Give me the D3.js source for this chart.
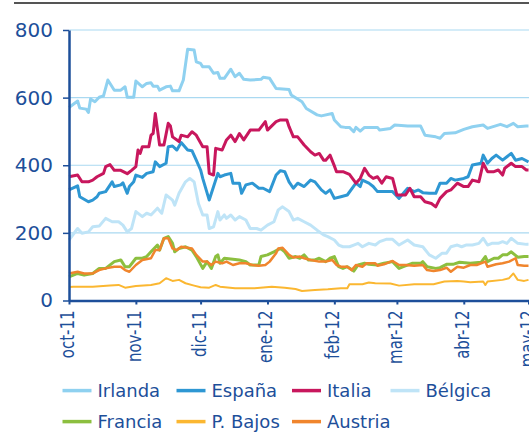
<!DOCTYPE html>
<html>
<head>
<meta charset="utf-8">
<script src="https://cdn.jsdelivr.net/npm/d3@7"></script>
<style>
  body { margin: 0; background: #fff; }
  svg { display: block; font-family: "DejaVu Sans", sans-serif; }
</style>
</head>
<body>
<div id="chart"></div>
<script>
// month ticks and their labels
const monthTicks = ["2011-10-01","2011-11-01","2011-12-01","2012-01-01","2012-02-01","2012-03-01","2012-04-01","2012-05-01"];
const monthLabels = ["oct-11","nov-11","dic-11","ene-12","feb-12","mar-12","abr-12","may-12"];
const yTicks = [0, 200, 400, 600, 800];

const seriesNames = ["Irlanda","España","Italia","Bélgica","Francia","P. Bajos","Austria"];

// values: [date, value]
const irlanda = [["2011-10-01",571],["2011-10-05",590],["2011-10-06",569],["2011-10-09",566],["2011-10-10",556],["2011-10-11",596],["2011-10-13",588],["2011-10-15",601],["2011-10-17",605],["2011-10-19",652],["2011-10-22",622],["2011-10-25",622],["2011-10-27",632],["2011-10-28",601],["2011-10-31",601],["2011-11-01",649],["2011-11-04",632],["2011-11-06",642],["2011-11-08",644],["2011-11-09",634],["2011-11-11",634],["2011-11-12",622],["2011-11-15",632],["2011-11-17",634],["2011-11-18",620],["2011-11-21",620],["2011-11-23",652],["2011-11-25",743],["2011-11-28",741],["2011-11-29",706],["2011-12-01",701],["2011-12-02",691],["2011-12-05",691],["2011-12-07",672],["2011-12-09",674],["2011-12-10",657],["2011-12-12",657],["2011-12-15",684],["2011-12-17",662],["2011-12-19",672],["2011-12-21",654],["2011-12-24",652],["2011-12-29",654],["2011-12-30",660],["2012-01-02",657],["2012-01-05",627],["2012-01-11",624],["2012-01-12",608],["2012-01-17",588],["2012-01-19",568],["2012-01-24",549],["2012-01-26",546],["2012-01-31",553],["2012-02-01",534],["2012-02-04",514],["2012-02-06",512],["2012-02-08",512],["2012-02-10",499],["2012-02-11",512],["2012-02-13",501],["2012-02-15",512],["2012-02-21",512],["2012-02-22",504],["2012-02-27",509],["2012-02-29",519],["2012-03-06",516],["2012-03-12",516],["2012-03-14",489],["2012-03-19",484],["2012-03-21",480],["2012-03-23",494],["2012-03-28",496],["2012-04-01",506],["2012-04-05",514],["2012-04-10",519],["2012-04-12",509],["2012-04-18",521],["2012-04-21",514],["2012-04-24",524],["2012-04-26",514],["2012-04-30",516],["2012-05-01",516]];

const espana = [["2011-10-01",327],["2011-10-05",339],["2011-10-06",307],["2011-10-10",292],["2011-10-12",297],["2011-10-14",307],["2011-10-15",317],["2011-10-18",322],["2011-10-21",351],["2011-10-22",337],["2011-10-25",342],["2011-10-26",348],["2011-10-28",317],["2011-10-29",337],["2011-10-31",351],["2011-11-01",371],["2011-11-04",364],["2011-11-06",376],["2011-11-09",381],["2011-11-10",410],["2011-11-12",396],["2011-11-15",406],["2011-11-16",455],["2011-11-18",457],["2011-11-20",445],["2011-11-22",467],["2011-11-25",445],["2011-11-27",443],["2011-11-29",415],["2011-12-01",386],["2011-12-02",361],["2011-12-05",297],["2011-12-09",376],["2011-12-10",366],["2011-12-12",371],["2011-12-15",376],["2011-12-16",347],["2011-12-19",347],["2011-12-20",317],["2011-12-22",342],["2011-12-25",347],["2011-12-28",332],["2011-12-30",332],["2012-01-02",322],["2012-01-05",371],["2012-01-07",384],["2012-01-09",381],["2012-01-11",351],["2012-01-13",332],["2012-01-15",347],["2012-01-18",337],["2012-01-21",356],["2012-01-23",351],["2012-01-26",327],["2012-01-28",317],["2012-01-30",327],["2012-02-01",302],["2012-02-04",307],["2012-02-07",312],["2012-02-11",347],["2012-02-13",337],["2012-02-14",356],["2012-02-17",347],["2012-02-19",337],["2012-02-21",322],["2012-02-24",322],["2012-02-28",322],["2012-03-02",302],["2012-03-04",317],["2012-03-06",332],["2012-03-09",322],["2012-03-11",327],["2012-03-13",319],["2012-03-16",317],["2012-03-19",317],["2012-03-21",347],["2012-03-24",347],["2012-03-26",361],["2012-03-28",356],["2012-04-01",361],["2012-04-03",366],["2012-04-05",401],["2012-04-09",406],["2012-04-10",430],["2012-04-12",406],["2012-04-14",420],["2012-04-16",430],["2012-04-19",415],["2012-04-21",425],["2012-04-23",435],["2012-04-25",415],["2012-04-28",420],["2012-05-01",410]];

const italia = [["2011-10-01",366],["2011-10-05",371],["2011-10-07",351],["2011-10-10",351],["2011-10-12",356],["2011-10-14",366],["2011-10-17",376],["2011-10-18",396],["2011-10-20",402],["2011-10-22",385],["2011-10-25",385],["2011-10-28",375],["2011-10-30",385],["2011-11-01",396],["2011-11-02",445],["2011-11-03",435],["2011-11-04",455],["2011-11-07",455],["2011-11-08",489],["2011-11-09",494],["2011-11-10",553],["2011-11-12",460],["2011-11-14",460],["2011-11-16",524],["2011-11-17",516],["2011-11-18",484],["2011-11-21",470],["2011-11-22",489],["2011-11-25",484],["2011-11-27",499],["2011-11-29",489],["2011-12-02",455],["2011-12-04",455],["2011-12-05",376],["2011-12-07",371],["2011-12-08",450],["2011-12-11",445],["2011-12-13",475],["2011-12-15",489],["2011-12-17",470],["2011-12-19",494],["2011-12-21",475],["2011-12-24",504],["2011-12-28",504],["2011-12-31",529],["2012-01-01",504],["2012-01-05",529],["2012-01-07",534],["2012-01-10",534],["2012-01-11",514],["2012-01-13",484],["2012-01-15",484],["2012-01-18",460],["2012-01-21",440],["2012-01-23",430],["2012-01-25",435],["2012-01-27",415],["2012-01-28",415],["2012-01-30",430],["2012-02-01",398],["2012-02-02",381],["2012-02-05",381],["2012-02-08",373],["2012-02-11",347],["2012-02-13",361],["2012-02-15",391],["2012-02-17",371],["2012-02-19",361],["2012-02-21",366],["2012-02-23",347],["2012-02-25",366],["2012-02-28",361],["2012-03-01",312],["2012-03-05",312],["2012-03-07",332],["2012-03-09",307],["2012-03-12",307],["2012-03-14",292],["2012-03-17",287],["2012-03-19",277],["2012-03-21",302],["2012-03-24",322],["2012-03-26",327],["2012-03-29",347],["2012-04-01",337],["2012-04-03",337],["2012-04-05",356],["2012-04-08",351],["2012-04-10",406],["2012-04-12",381],["2012-04-15",381],["2012-04-17",386],["2012-04-19",371],["2012-04-20",391],["2012-04-23",406],["2012-04-25",396],["2012-04-28",396],["2012-04-30",386],["2012-05-01",386]];

const belgica = [["2011-10-01",179],["2011-10-05",213],["2011-10-07",199],["2011-10-10",203],["2011-10-12",218],["2011-10-15",220],["2011-10-18",243],["2011-10-21",233],["2011-10-24",233],["2011-10-26",223],["2011-10-28",203],["2011-10-30",213],["2011-11-01",263],["2011-11-04",248],["2011-11-06",258],["2011-11-08",253],["2011-11-11",273],["2011-11-13",258],["2011-11-15",312],["2011-11-18",297],["2011-11-19",282],["2011-11-21",317],["2011-11-24",351],["2011-11-26",361],["2011-11-28",351],["2011-11-30",287],["2011-12-02",253],["2011-12-04",253],["2011-12-05",213],["2011-12-07",218],["2011-12-09",263],["2011-12-10",238],["2011-12-12",253],["2011-12-13",243],["2011-12-15",253],["2011-12-17",238],["2011-12-19",248],["2011-12-22",238],["2011-12-24",213],["2011-12-27",213],["2011-12-29",208],["2012-01-01",223],["2012-01-04",233],["2012-01-06",268],["2012-01-08",277],["2012-01-11",263],["2012-01-13",238],["2012-01-15",243],["2012-01-18",233],["2012-01-21",223],["2012-01-24",208],["2012-01-27",194],["2012-01-29",189],["2012-02-01",179],["2012-02-03",164],["2012-02-05",159],["2012-02-08",159],["2012-02-10",164],["2012-02-12",169],["2012-02-14",159],["2012-02-17",169],["2012-02-20",164],["2012-02-22",174],["2012-02-25",181],["2012-02-28",181],["2012-03-02",164],["2012-03-06",179],["2012-03-09",164],["2012-03-13",159],["2012-03-16",135],["2012-03-19",125],["2012-03-22",140],["2012-03-24",140],["2012-03-26",159],["2012-03-29",164],["2012-03-31",159],["2012-04-02",164],["2012-04-05",164],["2012-04-08",169],["2012-04-10",184],["2012-04-12",164],["2012-04-14",169],["2012-04-17",169],["2012-04-19",174],["2012-04-21",169],["2012-04-23",184],["2012-04-26",169],["2012-04-30",166],["2012-05-01",166]];

const francia = [["2011-10-01",70],["2011-10-05",80],["2011-10-08",75],["2011-10-12",80],["2011-10-15",95],["2011-10-18",95],["2011-10-22",115],["2011-10-25",120],["2011-10-27",100],["2011-10-29",100],["2011-11-01",125],["2011-11-04",125],["2011-11-06",130],["2011-11-08",144],["2011-11-11",164],["2011-11-12",149],["2011-11-14",184],["2011-11-16",189],["2011-11-18",169],["2011-11-19",144],["2011-11-21",154],["2011-11-24",159],["2011-11-27",149],["2011-11-29",130],["2011-12-02",95],["2011-12-04",115],["2011-12-06",95],["2011-12-08",130],["2011-12-09",135],["2011-12-10",110],["2011-12-12",125],["2011-12-15",123],["2011-12-19",120],["2011-12-22",115],["2011-12-24",105],["2011-12-28",105],["2011-12-29",130],["2012-01-01",135],["2012-01-04",144],["2012-01-07",154],["2012-01-09",144],["2012-01-11",125],["2012-01-14",130],["2012-01-16",125],["2012-01-18",135],["2012-01-20",120],["2012-01-23",120],["2012-01-25",125],["2012-01-28",115],["2012-01-30",125],["2012-02-01",130],["2012-02-03",100],["2012-02-05",95],["2012-02-07",100],["2012-02-10",87],["2012-02-12",105],["2012-02-15",110],["2012-02-17",107],["2012-02-21",105],["2012-02-24",110],["2012-02-28",115],["2012-03-02",95],["2012-03-04",100],["2012-03-08",110],["2012-03-12",110],["2012-03-13",115],["2012-03-15",100],["2012-03-19",95],["2012-03-21",97],["2012-03-24",107],["2012-03-27",107],["2012-03-30",113],["2012-04-04",110],["2012-04-09",113],["2012-04-11",130],["2012-04-12",115],["2012-04-15",125],["2012-04-17",125],["2012-04-19",135],["2012-04-21",135],["2012-04-23",144],["2012-04-26",128],["2012-04-29",130],["2012-05-01",130]];

const pbajos = [["2011-10-01",40],["2011-10-03",41],["2011-10-12",41],["2011-10-20",44],["2011-10-24",46],["2011-10-27",38],["2011-11-01",43],["2011-11-08",46],["2011-11-12",51],["2011-11-15",66],["2011-11-18",58],["2011-11-21",61],["2011-11-24",51],["2011-11-28",44],["2011-12-01",39],["2011-12-05",38],["2011-12-08",46],["2011-12-10",41],["2011-12-17",36],["2011-12-26",36],["2012-01-03",41],["2012-01-09",38],["2012-01-14",34],["2012-01-17",28],["2012-01-23",31],["2012-01-29",33],["2012-02-04",36],["2012-02-07",36],["2012-02-08",48],["2012-02-14",48],["2012-02-17",53],["2012-02-20",51],["2012-02-27",50],["2012-03-02",44],["2012-03-09",48],["2012-03-18",48],["2012-03-23",56],["2012-03-29",58],["2012-04-01",56],["2012-04-04",54],["2012-04-10",56],["2012-04-11",46],["2012-04-12",56],["2012-04-19",61],["2012-04-22",66],["2012-04-24",80],["2012-04-26",61],["2012-04-29",58],["2012-05-01",61]];

const austria = [["2011-10-01",80],["2011-10-05",85],["2011-10-08",80],["2011-10-12",80],["2011-10-15",90],["2011-10-18",95],["2011-10-22",100],["2011-10-25",100],["2011-10-27",90],["2011-10-29",85],["2011-11-01",105],["2011-11-04",120],["2011-11-08",125],["2011-11-10",149],["2011-11-12",149],["2011-11-14",184],["2011-11-16",184],["2011-11-18",154],["2011-11-20",149],["2011-11-22",159],["2011-11-27",154],["2011-11-29",135],["2011-12-02",115],["2011-12-04",115],["2011-12-06",105],["2011-12-08",115],["2011-12-11",110],["2011-12-13",115],["2011-12-16",105],["2011-12-19",110],["2011-12-22",110],["2011-12-25",105],["2011-12-28",103],["2011-12-31",105],["2012-01-02",115],["2012-01-05",140],["2012-01-06",154],["2012-01-08",156],["2012-01-11",135],["2012-01-13",127],["2012-01-16",130],["2012-01-18",125],["2012-01-21",120],["2012-01-25",115],["2012-01-28",115],["2012-01-31",120],["2012-02-02",105],["2012-02-04",100],["2012-02-07",100],["2012-02-09",90],["2012-02-11",105],["2012-02-14",100],["2012-02-16",110],["2012-02-20",110],["2012-02-21",103],["2012-02-24",107],["2012-02-28",117],["2012-03-02",105],["2012-03-05",105],["2012-03-09",103],["2012-03-13",105],["2012-03-15",90],["2012-03-18",87],["2012-03-21",90],["2012-03-24",97],["2012-03-26",85],["2012-03-29",100],["2012-04-01",97],["2012-04-04",105],["2012-04-07",105],["2012-04-11",115],["2012-04-12",100],["2012-04-16",107],["2012-04-19",110],["2012-04-22",115],["2012-04-25",125],["2012-04-26",105],["2012-04-29",103],["2012-05-01",103]];

const seriesData = [irlanda, espana, italia, belgica, francia, pbajos, austria];
const seriesColors = ["#8fd1f0","#2e97d3","#c8175d","#bfe4f7","#8cbf3f","#fbb731","#f0852d"];
const seriesWidths = [3, 3, 3, 3, 3, 2, 2.5];

const W = 529, H = 444;
const textColor = "#1d4f9a";
const parse = d3.timeParse("%Y-%m-%d");

const svg = d3.select("#chart").append("svg")
  .attr("width", W)
  .attr("height", H);

// rule on top
svg.append("rect")
  .attr("x", 14).attr("y", 2)
  .attr("width", W - 14).attr("height", 2)
  .attr("fill", "#555");

const x = d3.scaleTime()
  .domain([parse("2011-10-01"), parse("2012-05-01")])
  .range([69, 528.5]);

const y = d3.scaleLinear()
  .domain([0, 800])
  .range([300.5, 30]);

// gridlines
svg.append("g")
  .selectAll("line")
  .data(yTicks.filter(d => d > 0))
  .enter().append("line")
    .attr("x1", 69).attr("x2", W)
    .attr("y1", d => y(d)).attr("y2", d => y(d))
    .attr("stroke", "#aad9f1")
    .attr("stroke-width", 1.2);

// lines
const linea = d3.line()
  .x(d => x(parse(d[0])))
  .y(d => y(d[1]))
  .curve(d3.curveLinear);

svg.append("g")
  .selectAll("path")
  .data(seriesData)
  .enter().append("path")
    .attr("fill", "none")
    .attr("stroke", (d, i) => seriesColors[i])
    .attr("stroke-width", (d, i) => seriesWidths[i])
    .attr("stroke-linejoin", "round")
    .attr("d", linea);

// axes
const yAxis = d3.axisLeft(y)
  .tickValues(yTicks)
  .tickSize(6)
  .tickSizeOuter(0)
  .tickPadding(10);

const gy = svg.append("g")
  .attr("transform", "translate(69,0)")
  .call(yAxis);
gy.select(".domain").attr("stroke", textColor).attr("stroke-width", 2.5);
gy.selectAll(".tick line").attr("stroke", textColor).attr("stroke-width", 1.5);
gy.selectAll(".tick text")
  .attr("fill", textColor)
  .style("font-size", "20px")
  .style("font-family", "DejaVu Sans");

const xAxis = d3.axisBottom(x)
  .tickValues(monthTicks.map(parse))
  .tickFormat((d, i) => monthLabels[i])
  .tickSize(4)
  .tickSizeOuter(0);

const gx = svg.append("g")
  .attr("transform", "translate(0,300.5)")
  .call(xAxis);
gx.select(".domain").attr("stroke", textColor).attr("stroke-width", 2.5);
gx.selectAll(".tick line").attr("stroke", textColor).attr("stroke-width", 2);
gx.selectAll(".tick text")
  .attr("y", null).attr("dy", null)
  .attr("text-anchor", "end")
  .attr("transform", "translate(4.5,10) rotate(-90) scale(0.75,1)")
  .attr("fill", textColor)
  .style("font-size", "20px")
  .style("font-family", "DejaVu Sans");

// legend
const legendCols = [62.5, 176.5, 292, 390.5];
const legendRows = [390.6, 421.6];

const legend = svg.append("g").attr("class", "legend");
const items = legend.selectAll("g")
  .data(seriesNames)
  .enter().append("g")
    .attr("transform", (d, i) => `translate(${legendCols[i % 4]},${legendRows[Math.floor(i / 4)]})`);

items.append("line")
  .attr("x1", 0).attr("x2", 29)
  .attr("y1", 0).attr("y2", 0)
  .attr("stroke", (d, i) => seriesColors[i])
  .attr("stroke-width", 3.5);

items.append("text")
  .attr("x", 35)
  .attr("y", 6.8)
  .attr("fill", textColor)
  .style("font-size", "18px")
  .text(d => d);
</script>
</body>
</html>
